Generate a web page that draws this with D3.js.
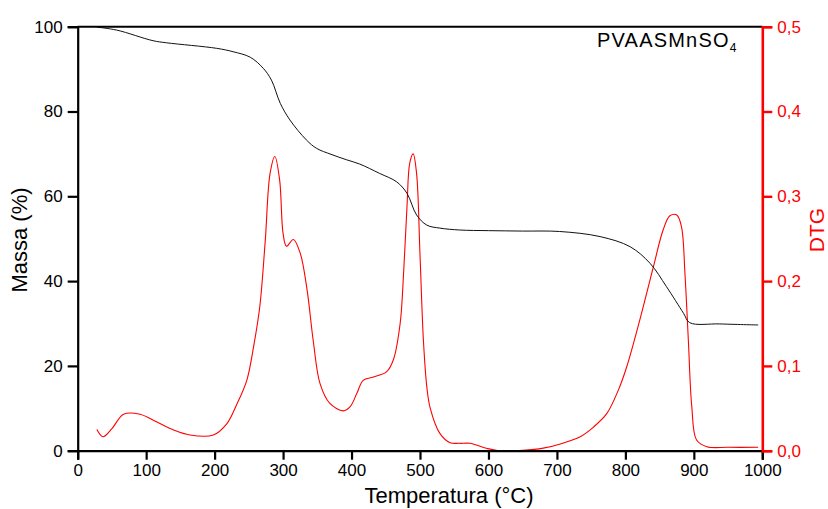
<!DOCTYPE html>
<html>
<head>
<meta charset="utf-8">
<script src="https://cdn.jsdelivr.net/npm/d3@7"></script>
<style>
  html, body { margin: 0; padding: 0; background: #fff; }
  svg text { font-family: "Liberation Sans", Arial, sans-serif; }
</style>
</head>
<body>
<svg id="chart" width="828" height="509"></svg>
<script>
// Temperature (°C) and residual mass (%) of the TG curve
const tgTemp = [28, 57, 110, 130, 203, 227, 252, 271, 283, 296, 310, 334, 349, 370, 393, 412, 441, 466, 481, 495, 510, 529, 558, 600, 650, 704, 763, 807, 836, 860, 885, 894, 938, 994];
const tgMass = [99.9, 99.2, 96.7, 96.2, 94.9, 94.1, 92.8, 90.2, 87.4, 81.9, 78.0, 73.3, 71.3, 69.9, 68.6, 67.6, 65.4, 63.4, 60.7, 55.6, 53.2, 52.5, 52.05, 51.9, 51.8, 51.7, 50.5, 48.1, 44.2, 38.7, 32.4, 30.2, 29.9, 29.65];

// Temperature (°C) and derivative of mass loss (DTG)
const dtgTemp = [28, 37, 50, 67, 91, 115, 140, 164, 198, 218, 232, 247, 257, 266, 274, 281, 288, 295, 300, 305, 315, 325, 335, 344, 354, 368, 388, 398, 408, 417, 432, 451, 461, 471, 476, 481, 485, 490, 495, 500, 505, 510, 515, 529, 544, 558, 573, 597, 615, 650, 680, 705, 734, 753, 773, 790, 802, 821, 841, 855, 865, 875, 882, 887, 892, 897, 904, 919, 950, 994];
const dtgVal  = [0.025, 0.0165, 0.026, 0.043, 0.043, 0.034, 0.0244, 0.0185, 0.0185, 0.032, 0.054, 0.083, 0.123, 0.17, 0.248, 0.327, 0.347, 0.319, 0.256, 0.241, 0.249, 0.233, 0.19, 0.13, 0.079, 0.056, 0.047, 0.052, 0.068, 0.083, 0.087, 0.093, 0.107, 0.150, 0.209, 0.288, 0.339, 0.35, 0.327, 0.231, 0.13, 0.075, 0.05, 0.0205, 0.0095, 0.0087, 0.0087, 0.0028, 0.0, 0.0005, 0.003, 0.008, 0.0165, 0.0276, 0.044, 0.072, 0.099, 0.154, 0.217, 0.26, 0.277, 0.278, 0.264, 0.209, 0.13, 0.052, 0.0126, 0.0047, 0.004, 0.004];

// Axis ticks
const tempTicks = [0, 100, 200, 300, 400, 500, 600, 700, 800, 900, 1000];
const massTicks = [0, 20, 40, 60, 80, 100];
const dtgTicks = [0, 0.1, 0.2, 0.3, 0.4, 0.5];

const svg = d3.select("#chart");
const plotLeft = 77.7, plotRight = 762.3, plotTop = 26.7, plotBottom = 450.7;
const RED = "#ff0000";

const x = d3.scaleLinear().domain([0, 1000]).range([plotLeft, plotRight]);
const yMass = d3.scaleLinear().domain([0, 100]).range([plotBottom, plotTop]);
const yDtg = d3.scaleLinear().domain([0, 0.5]).range([plotBottom, plotTop]);

// Curves
const tgData = tgTemp.map((t, i) => [t, tgMass[i]]);
const dtgData = dtgTemp.map((t, i) => [t, dtgVal[i]]);
const smooth = d3.curveCatmullRom.alpha(0.5);

svg.append("path")
  .datum(dtgData)
  .attr("fill", "none")
  .attr("stroke", RED)
  .attr("stroke-width", 1.1)
  .attr("d", d3.line().x(d => x(d[0])).y(d => yDtg(Math.max(0, d[1]))).curve(smooth));

svg.append("path")
  .datum(tgData)
  .attr("fill", "none")
  .attr("stroke", "#111")
  .attr("stroke-width", 1)
  .attr("d", d3.line().x(d => x(d[0])).y(d => yMass(d[1])).curve(smooth));

// Top frame line
svg.append("line")
  .attr("x1", plotLeft).attr("x2", plotRight).attr("y1", plotTop).attr("y2", plotTop)
  .attr("stroke", "#000").attr("stroke-width", 2);

// Axes
const fmtComma = d => d3.format(".1f")(d).replace(".", ",");

const gx = svg.append("g").attr("transform", `translate(0,${plotBottom})`)
  .call(d3.axisBottom(x).tickValues(tempTicks).tickFormat(d3.format("d")).tickSizeOuter(0).tickSize(9).tickPadding(4));
const gl = svg.append("g").attr("transform", `translate(${plotLeft},0)`)
  .call(d3.axisLeft(yMass).tickValues(massTicks).tickSizeOuter(0).tickSize(10).tickPadding(5));
const gr = svg.append("g").attr("transform", `translate(${plotRight},0)`)
  .call(d3.axisRight(yDtg).tickValues(dtgTicks).tickFormat(fmtComma).tickSizeOuter(0).tickSize(10).tickPadding(5));

[gx, gl].forEach(g => {
  g.select(".domain").attr("stroke", "#000").attr("stroke-width", 2.2);
  g.selectAll(".tick line").attr("stroke", "#000").attr("stroke-width", 2.2);
  g.selectAll(".tick text").attr("fill", "#000").attr("font-size", 17).attr("font-family", "Liberation Sans, Arial, sans-serif");
});
gr.select(".domain").attr("stroke", RED).attr("stroke-width", 2.6);
gr.selectAll(".tick line").attr("stroke", RED).attr("stroke-width", 2.4);
gr.selectAll(".tick text").attr("fill", RED).attr("font-size", 17).attr("font-family", "Liberation Sans, Arial, sans-serif");

// Axis titles
svg.append("text")
  .attr("x", 449).attr("y", 503)
  .attr("text-anchor", "middle")
  .attr("font-size", 22)
  .text("Temperatura (°C)");

svg.append("text")
  .attr("transform", "translate(27,240) rotate(-90)")
  .attr("text-anchor", "middle")
  .attr("font-size", 22)
  .text("Massa (%)");

svg.append("text")
  .attr("transform", "translate(824,230) rotate(-90)")
  .attr("text-anchor", "middle")
  .attr("font-size", 21)
  .attr("fill", RED)
  .text("DTG");

// Sample label
const lab = svg.append("text")
  .attr("x", 597).attr("y", 47)
  .attr("font-size", 20)
  .attr("letter-spacing", 1.2);
lab.append("tspan").text("PVAASMnSO");
lab.append("tspan").attr("font-size", 12).attr("dy", 5).attr("letter-spacing", 0).text("4");
</script>
</body>
</html>
